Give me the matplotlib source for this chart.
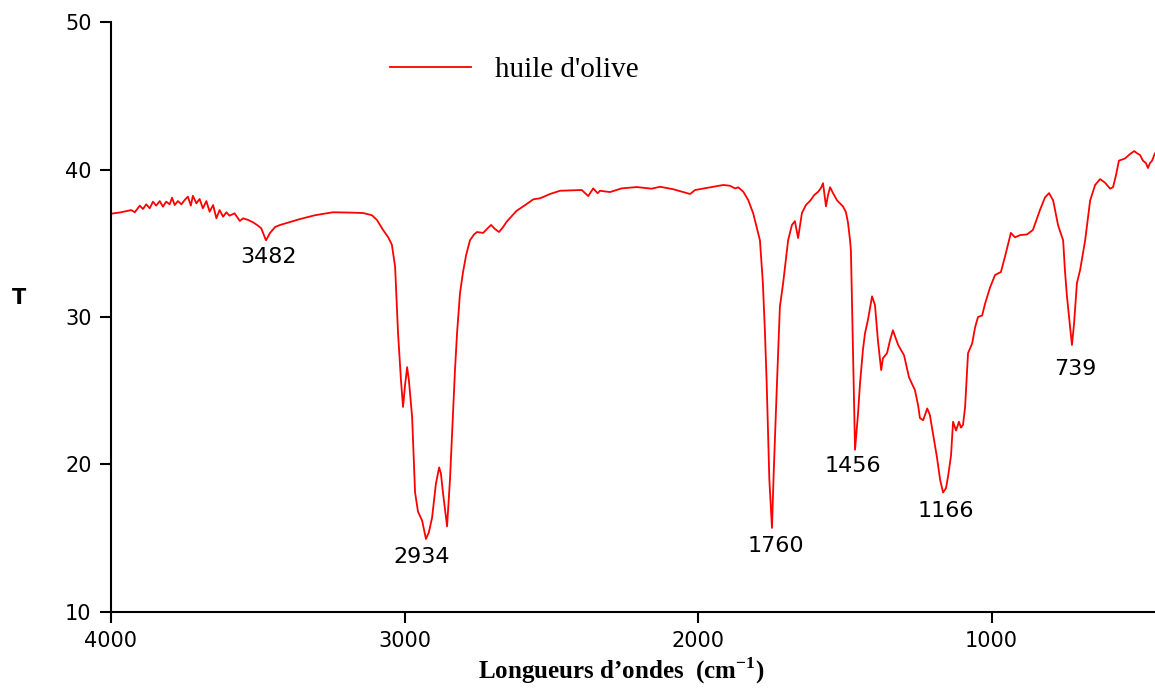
import matplotlib
matplotlib.use("Agg")
import matplotlib.pyplot as plt

plt.rcParams["mathtext.fontset"] = "custom"
plt.rcParams["mathtext.rm"] = "Liberation Serif"
plt.rcParams["mathtext.bf"] = "Liberation Serif:bold"

# IR spectrum of olive oil
wavenumber = [
    4000, 3966, 3931, 3919, 3902, 3891, 3880, 3868, 3857, 3846, 3834, 3823, 3812, 3800,
    3792, 3783, 3772, 3760, 3749, 3738, 3728, 3721, 3709, 3698, 3687, 3675, 3664, 3652,
    3641, 3630, 3618, 3607, 3596, 3579, 3561, 3550, 3533, 3516, 3499, 3488, 3472, 3458,
    3441, 3424, 3390, 3356, 3305, 3244, 3186, 3141, 3111, 3094, 3073, 3056, 3043, 3032,
    3022, 3012, 3005, 2998, 2991, 2985, 2974, 2964, 2954, 2940, 2927, 2917, 2906, 2893,
    2882, 2876, 2869, 2855, 2845, 2838, 2828, 2821, 2811, 2801, 2790, 2777, 2763, 2753,
    2732, 2719, 2705, 2692, 2678, 2664, 2652, 2618, 2589, 2561, 2538, 2504, 2470, 2396,
    2374, 2357, 2342, 2334, 2300, 2260, 2209, 2158, 2129, 2084, 2027, 2010, 1959, 1914,
    1891, 1874, 1863, 1846, 1829, 1812, 1795, 1789, 1779, 1772, 1766, 1757, 1748, 1742,
    1731, 1721, 1710, 1693, 1680, 1670, 1659, 1646, 1632, 1617, 1604, 1590, 1581, 1574,
    1564, 1557, 1550, 1540, 1526, 1516, 1506, 1496, 1489, 1482, 1479, 1472, 1465, 1455,
    1448, 1438, 1431, 1421, 1407, 1397, 1387, 1376, 1370, 1356, 1346, 1336, 1318, 1298,
    1281, 1261, 1250, 1244, 1233, 1219, 1210, 1196, 1186, 1175, 1165, 1155, 1148, 1138,
    1131, 1121, 1111, 1104, 1097, 1090, 1080, 1066, 1056, 1046, 1032, 1022, 1005, 988,
    968, 954, 944, 934, 920, 903, 879, 859, 835, 818, 804, 790, 773, 756,
    750, 743, 733, 726, 719, 709, 698, 681, 664, 647, 630, 613, 596, 586,
    576, 566, 545, 528, 514, 504, 494, 484, 474, 467, 460, 453, 443,
]
transmittance = [
    37.0, 37.1, 37.25, 37.1, 37.55, 37.32, 37.64, 37.37, 37.82, 37.55, 37.86, 37.48, 37.82, 37.64,
    38.09, 37.59, 37.86, 37.64, 37.93, 38.16, 37.55, 38.22, 37.71, 38.0, 37.37, 37.86, 37.14, 37.59,
    36.69, 37.25, 36.8, 37.1, 36.87, 37.03, 36.51, 36.69, 36.58, 36.42, 36.19, 36.01, 35.2, 35.7,
    36.1, 36.24, 36.44, 36.64, 36.9, 37.1, 37.08, 37.05, 36.9, 36.58, 35.9, 35.42, 34.9, 33.4,
    28.9, 25.7, 23.9, 25.4, 26.6, 25.7, 23.2, 18.1, 16.8, 16.2, 14.95, 15.4, 16.4, 18.7,
    19.8, 19.4, 18.1, 15.8, 19.0, 22.1, 26.4, 28.9, 31.6, 33.0, 34.2, 35.2, 35.6, 35.76,
    35.7, 35.97, 36.24, 35.97, 35.76, 36.1, 36.46, 37.2, 37.59, 37.98, 38.05, 38.34, 38.56, 38.61,
    38.2, 38.72, 38.39, 38.56, 38.47, 38.72, 38.81, 38.7, 38.83, 38.66, 38.34, 38.61, 38.79, 38.95,
    38.9, 38.72, 38.79, 38.5, 37.93, 37.03, 35.67, 35.2, 32.3, 29.0, 25.5, 19.0, 15.7, 19.5,
    25.5, 30.7, 32.3, 35.2, 36.24, 36.5, 35.35, 37.05, 37.6, 37.9, 38.27, 38.5, 38.75, 39.07,
    37.5, 38.27, 38.8, 38.4, 37.9, 37.7, 37.5, 37.1, 36.4, 35.2, 34.5, 27.8, 21.0, 23.4,
    25.5, 27.8, 28.9, 29.8, 31.4, 30.8, 28.4, 26.4, 27.2, 27.55, 28.4, 29.1, 28.1, 27.4,
    25.9, 25.05, 24.0, 23.15, 23.0, 23.8, 23.35, 21.7, 20.5, 18.95, 18.1, 18.4, 19.2, 20.6,
    22.9, 22.3, 22.9, 22.5, 22.7, 23.9, 27.55, 28.2, 29.3, 30.0, 30.1, 30.9, 32.0, 32.85,
    33.05, 34.1, 34.9, 35.7, 35.4, 35.55, 35.6, 35.9, 37.25, 38.1, 38.4, 37.9, 36.2, 35.2,
    33.2, 31.4, 29.5, 28.1, 29.5, 32.3, 33.2, 35.2, 37.9, 38.95, 39.35, 39.1, 38.7, 38.8,
    39.6, 40.6, 40.75, 41.05, 41.25, 41.1, 40.98, 40.6, 40.44, 40.1, 40.44, 40.6, 41.1,
]

# peak annotations (text, x, y)
peak_labels = ["3482", "2934", "1760", "1456", "1166", "739"]
peak_x = [3465, 2940, 1734, 1472, 1155, 715]
peak_y = [34.1, 13.7, 14.5, 19.9, 16.85, 26.5]

fig = plt.figure(figsize=(11.55, 6.88), dpi=100)
ax = fig.add_axes([0.0961, 0.1105, 0.9039, 0.8575])

ax.plot(wavenumber, transmittance, color="red", lw=1.3, label="huile d'olive")

for txt, x, y in zip(peak_labels, peak_x, peak_y):
    ax.text(x, y, txt, ha="center", va="center", fontsize=16, family="DejaVu Sans")

ax.set_xlim(4000, 443)
ax.set_ylim(10, 50)
ax.set_xticks([4000, 3000, 2000, 1000])
ax.set_yticks([10, 20, 30, 40, 50])

for side in ["top", "right"]:
    ax.spines[side].set_visible(False)
for side in ["left", "bottom"]:
    ax.spines[side].set_linewidth(1.5)
ax.tick_params(direction="out", length=8, width=1.5, labelsize=15, pad=6)
for lab in ax.get_xticklabels() + ax.get_yticklabels():
    lab.set_family("DejaVu Sans")

fig.text(0.538, 1 - 671 / 688, "Longueurs d\u2019ondes  (cm$^{\\mathbf{-1}}$)",
         family="Liberation Serif", fontweight="bold", fontsize=18,
         ha="center", va="center")
ax.text(-0.088, 0.532, "T", transform=ax.transAxes, fontsize=15, fontweight="bold",
        family="DejaVu Sans", ha="center", va="center")

ax.legend(loc="center left", bbox_to_anchor=(0.267, 0.919), frameon=False,
          prop={"family": "Liberation Serif", "size": 21},
          handlelength=2.8, handletextpad=0.8, borderpad=0, borderaxespad=0)

fig.savefig("out.png", dpi=100)
plt.close(fig)
